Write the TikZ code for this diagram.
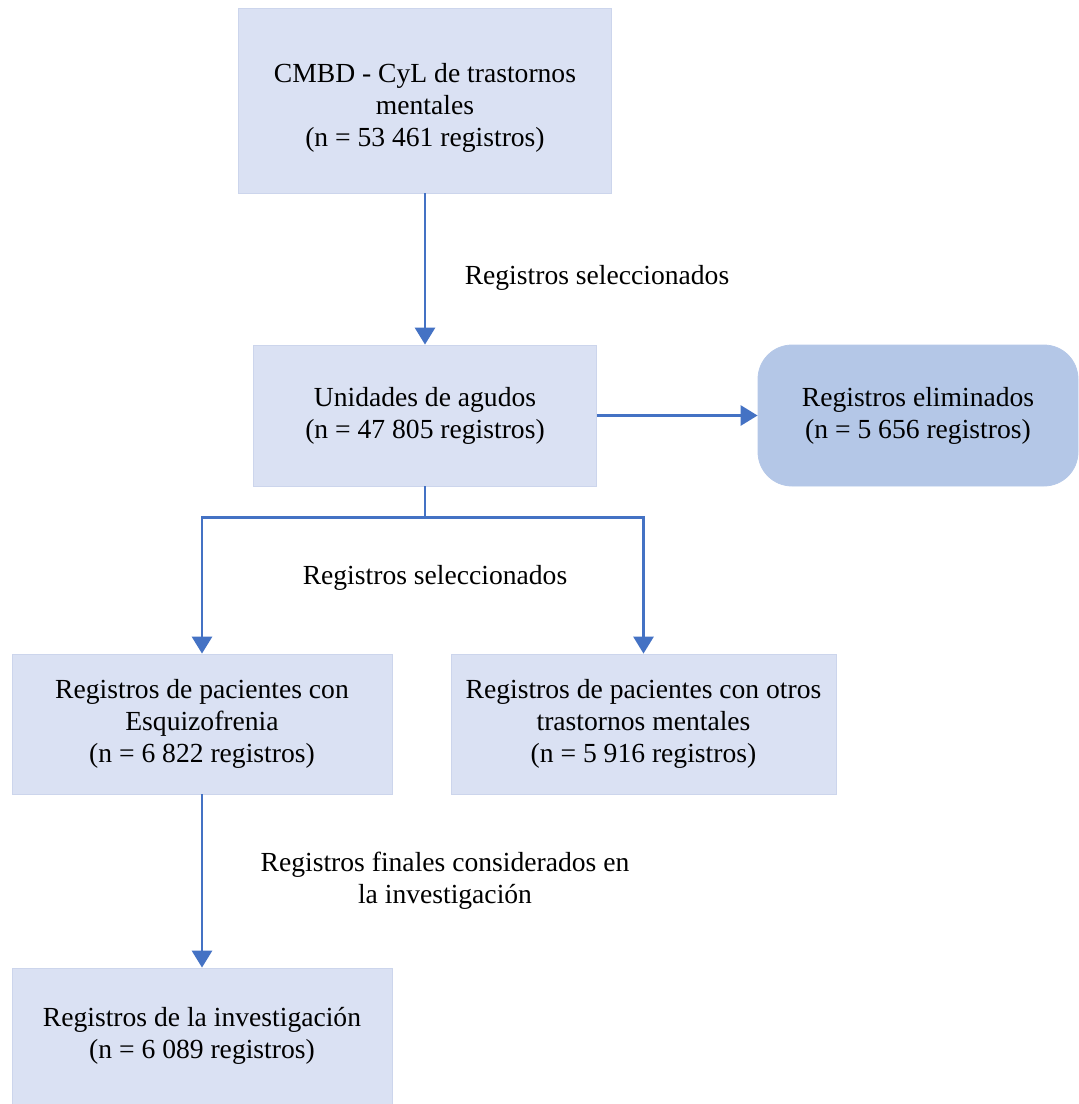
\documentclass[tikz,border=0pt]{standalone}
\usepackage{fontspec}
\setmainfont{Liberation Serif}
\usetikzlibrary{arrows.meta}

\definecolor{boxfill}{HTML}{DAE1F3}
\definecolor{boxline}{HTML}{CCD5EC}
\definecolor{elimfill}{HTML}{B4C7E7}
\definecolor{arrowblue}{HTML}{4472C4}

\begin{document}
\begin{tikzpicture}
\tikzstyle{stage}=[rectangle,draw=boxline,fill=boxfill,align=center,inner sep=2pt,font=\fontsize{13.8}{16}\selectfont]
\tikzstyle{removed}=[rectangle,rounded corners=17pt,draw=elimfill,fill=elimfill,align=center,font=\fontsize{13.8}{16}\selectfont]
\tikzstyle{flow}=[arrowblue,line width=1.45pt,-{Triangle[length=8.5pt,width=10pt]}]
\tikzstyle{note}=[align=center,font=\fontsize{13.8}{16}\selectfont]

\useasboundingbox (0,0) rectangle (539pt,-552pt);

\begin{scope}
    % Stages
    \node [stage,minimum width=186.5pt,minimum height=92.5pt] at (212.5pt,-50.25pt) (cmbd){\rule{0pt}{17pt}CMBD - CyL de trastornos\\mentales\\(n = 53 461 registros)};
    \node [stage,minimum width=171.5pt,minimum height=70.5pt,node distance=157.5pt,below of=cmbd] (agudos){Unidades de agudos\\(n = 47 805 registros)};
    \node [removed,minimum width=160pt,minimum height=70.5pt,node distance=246.5pt,right of=agudos] (elim){Registros eliminados\\(n = 5 656 registros)};
    \node [stage,minimum width=190pt,minimum height=70pt] at (101pt,-362pt) (esq){Registros de pacientes con\\Esquizofrenia\\(n = 6 822 registros)};
    \node [stage,minimum width=192.5pt,minimum height=70pt,node distance=220.75pt,right of=esq] (otros){Registros de pacientes con otros\\trastornos mentales\\(n = 5 916 registros)};
    \node [stage,minimum width=190pt,minimum height=68pt,node distance=156pt,below of=esq] (invest){Registros de la investigaci\'on\\(n = 6 089 registros)};

    % Selection steps
    \draw [flow] (cmbd) -- (agudos);
    \draw [flow] (agudos) -- (elim);
    \draw [flow] (agudos.south) -- ++(0,-15.5pt) -| (esq.north);
    \draw [flow] (agudos.south) -- ++(0,-15.5pt) -| (otros.north);
    \draw [flow] (esq) -- (invest);

    % Labels
    \node [note] at (298.5pt,-139pt) (sel1){Registros seleccionados};
    \node [note] at (217.5pt,-289pt) (sel2){Registros seleccionados};
    \node [note] at (222.5pt,-440.5pt) (fin){Registros finales considerados en\\la investigaci\'on};
\end{scope}

\end{tikzpicture}
\end{document}
